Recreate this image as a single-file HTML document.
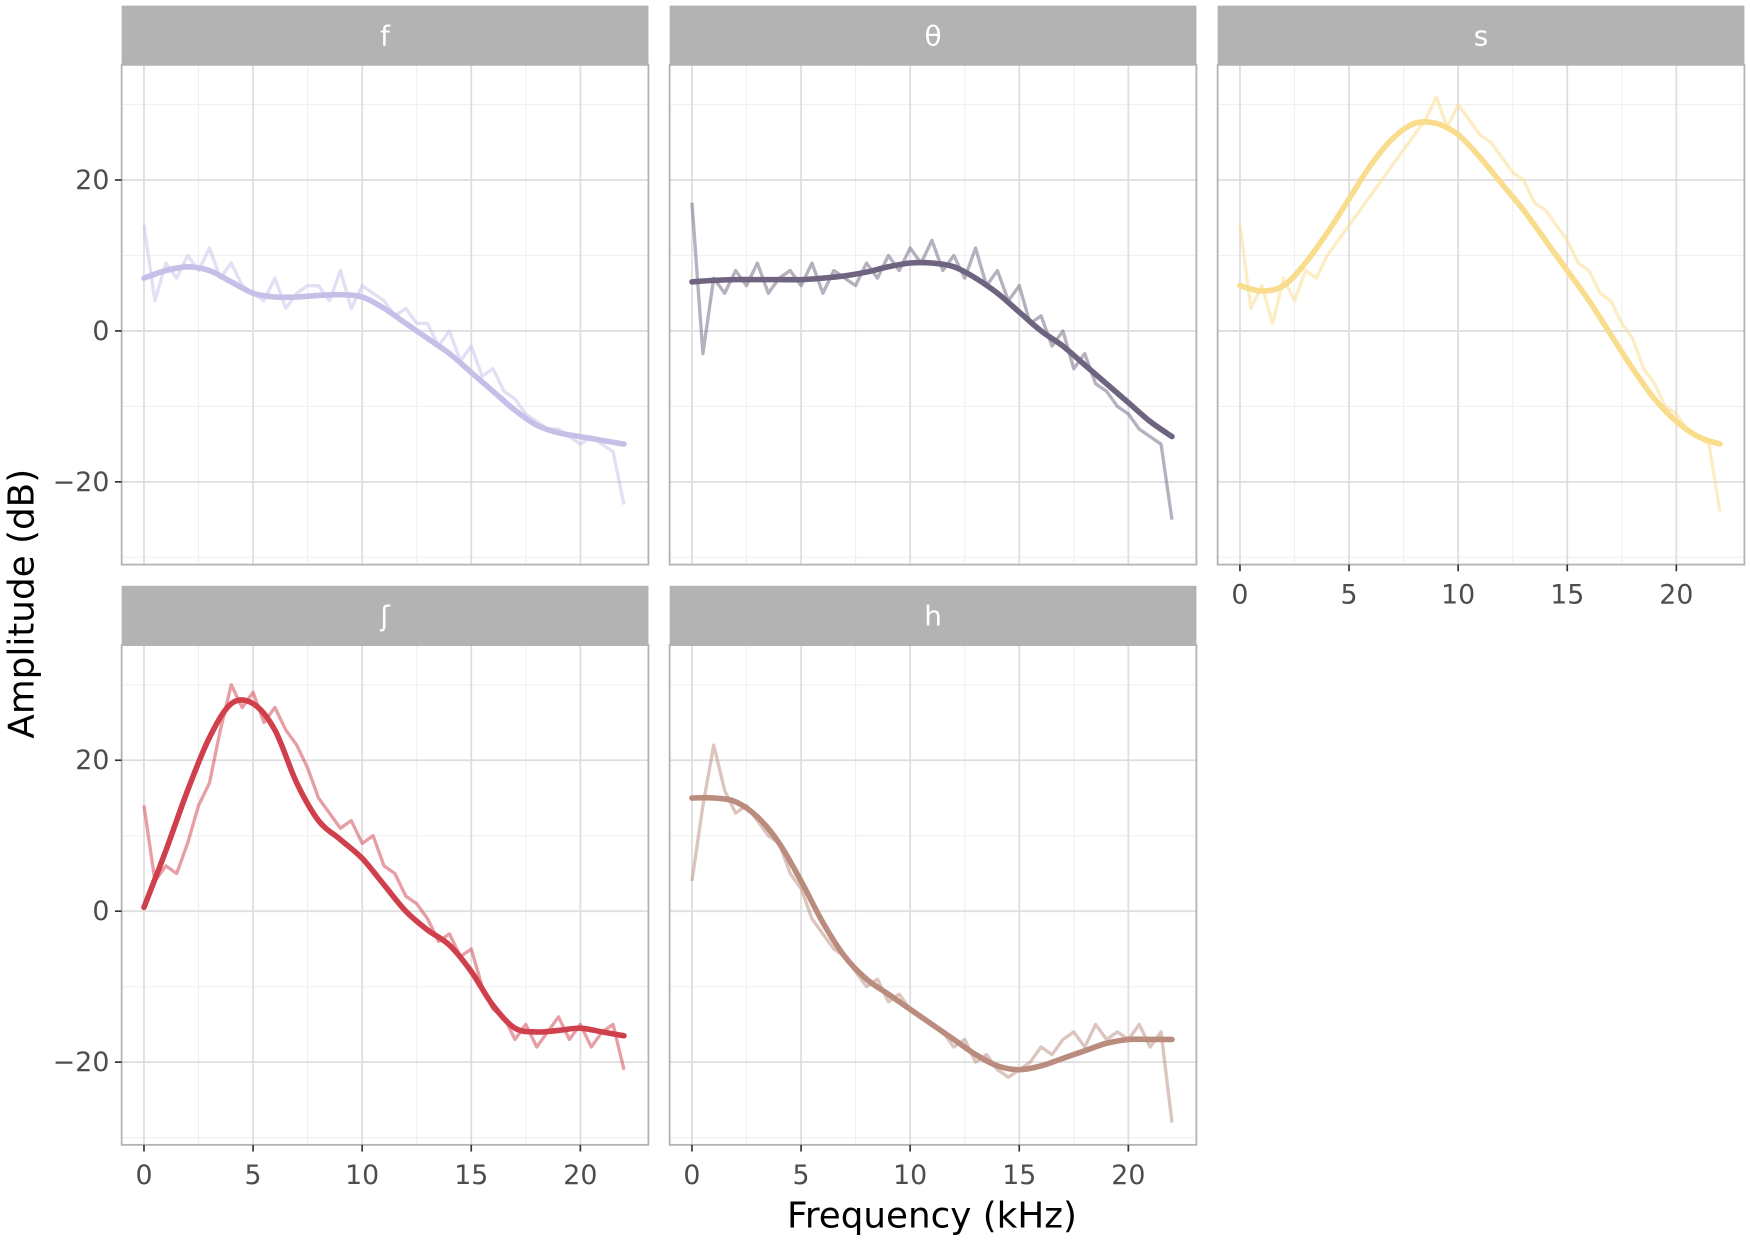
<!DOCTYPE html>
<html><head><meta charset="utf-8">
<style>
html,body{margin:0;padding:0;background:#fff;}
svg{display:block;font-family:"DejaVu Sans","Liberation Sans",sans-serif;}
</style></head>
<body>
<svg id="chart" width="1750" height="1241" viewBox="0 0 1568 1110" preserveAspectRatio="none" xmlns="http://www.w3.org/2000/svg">
<text x="0" y="0" transform="translate(30,540) rotate(-90)" text-anchor="middle" font-size="32" fill="#000">Amplitude (dB)</text>
<text x="835" y="1098" text-anchor="middle" font-size="32" fill="#000">Frequency (kHz)</text>
</svg>
<script>
const panelNames = ["f","θ","s","ʃ","h"];
const panelColors = ["#c8bfe9","#6e6480","#f9dc8c","#d0404c","#ba8c7e"];
const xTicks = [0,5,10,15,20];
const yTicks = [-20,0,20];
const smoothF = [7,8,8.5,8,6.5,5,4.5,4.5,4.7,4.8,4.5,3,1,-1,-3,-5.5,-8,-10.5,-12.5,-13.5,-14,-14.5,-15];
const smoothTh = [6.5,6.7,6.8,6.8,6.8,6.8,7,7.3,7.8,8.5,9,9,8.5,7,5,2.5,0,-2,-4.5,-7,-9.5,-12,-14];
const smoothS = [6,5.3,6,9,13,17.5,22,25.5,27.5,27.5,26,23,19.5,16,12,8,4,-0.5,-5,-9,-12,-14,-15];
const smoothSh = [0.5,8,16,23,27.5,27.5,24,17,12,9.5,7,3.5,0,-2.5,-4.5,-8,-12.5,-15.5,-16,-15.8,-15.5,-16,-16.5];
const smoothH = [15,15,14.5,12.5,9,4,-1.5,-6,-9,-11,-13,-15,-17,-19,-20.5,-21,-20.5,-19.5,-18.5,-17.5,-17,-17,-17];
const rawF = [14,4,9,7,10,8,11,7,9,6,5,4,7,3,5,6,6,4,8,3,6,5,4,2,3,1,1,-2,0,-4,-2,-6,-5,-8,-9,-11,-12,-13,-13,-14,-15,-14,-15,-16,-23];
const rawTh = [17,-3,7,5,8,6,9,5,7,8,6,9,5,8,7,6,9,7,10,8,11,9,12,8,10,7,11,6,8,4,6,1,2,-2,0,-5,-3,-7,-8,-10,-11,-13,-14,-15,-25];
const rawS = [14,3,6,1,7,4,8,7,10,12,14,16,18,20,22,24,26,28,31,27,30,28,26,25,23,21,20,17,16,14,12,9,8,5,4,1,-1,-5,-7,-10,-11,-13,-14,-15,-24];
const rawSh = [14,4,6,5,9,14,17,24,30,27,29,25,27,24,22,19,15,13,11,12,9,10,6,5,2,1,-1,-4,-3,-6,-5,-10,-13,-14,-17,-15,-18,-16,-14,-17,-15,-18,-16,-15,-21];
const rawH = [4,14,22,16,13,14,12,10,9,5,3,-1,-3,-5,-6,-8,-10,-9,-12,-11,-13,-14,-15,-16,-18,-17,-20,-19,-21,-22,-21,-20,-18,-19,-17,-16,-18,-15,-17,-16,-17,-15,-18,-16,-28];
const smoothSeries = [smoothF,smoothTh,smoothS,smoothSh,smoothH];
const rawSeries = [rawF,rawTh,rawS,rawSh,rawH];

const svg = document.getElementById('chart');
const NS = "http://www.w3.org/2000/svg";
function mk(tag, attrs, parent){
  const e = document.createElementNS(NS, tag);
  for (const k in attrs) e.setAttribute(k, attrs[k]);
  (parent||svg).appendChild(e);
  return e;
}
const colX = [109,600,1091];
const panelW = 472;
const rowTop = [58,577];
const panelH = 447;
const stripH = 53;
const xPxPerKHz = 19.55;
const yPxPerDb = 6.75;

panelNames.forEach((name,i)=>{
  const col = i<3 ? i : i-3;
  const row = i<3 ? 0 : 1;
  const px = colX[col], py = rowTop[row];
  const xs = v => px + 20 + v*xPxPerKHz;
  const ys = v => py + 238 - v*yPxPerDb;
  const g = mk('g',{});
  
  
  const strip = mk('rect',{x:px,y:py-stripH,width:panelW,height:stripH,fill:'#b3b3b3'},g);
  
  
  const st = mk('text',{x:px+panelW/2,y:py-stripH/2+9,'text-anchor':'middle','font-size':25,fill:'#fff'},g);
  st.textContent = name;
  
  
  [2.5,7.5,12.5,17.5].forEach(v=>mk('line',{x1:xs(v),x2:xs(v),y1:py,y2:py+panelH,stroke:'#f0f0f0','stroke-width':1},g));
  [-30,-10,10,30].forEach(v=>mk('line',{x1:px,x2:px+panelW,y1:ys(v),y2:ys(v),stroke:'#f0f0f0','stroke-width':1},g));
  xTicks.forEach(v=>{
    const l = mk('line',{x1:xs(v),x2:xs(v),y1:py,y2:py+panelH,stroke:'#dedede','stroke-width':1.6},g);
    
    
  });
  yTicks.forEach(v=>{
    const l = mk('line',{x1:px,x2:px+panelW,y1:ys(v),y2:ys(v),stroke:'#dedede','stroke-width':1.6},g);
    
    
  });
  const raw = rawSeries[i];
  const rp = raw.map((v,k)=>xs(k*0.5).toFixed(1)+','+ys(v).toFixed(1)).join(' ');
  const rl = mk('polyline',{points:rp,fill:'none',stroke:panelColors[i],'stroke-opacity':0.5,'stroke-width':3,'stroke-linejoin':'round'},g);
  
  
  const sm = smoothSeries[i];
  const pts = sm.map((v,k)=>[xs(k),ys(v)]);
  let d = 'M'+pts[0][0]+','+pts[0][1];
  for (let k=0;k<pts.length-1;k++){
    const p0=pts[Math.max(0,k-1)],p1=pts[k],p2=pts[k+1],p3=pts[Math.min(pts.length-1,k+2)];
    const c1=[p1[0]+(p2[0]-p0[0])/6,p1[1]+(p2[1]-p0[1])/6];
    const c2=[p2[0]-(p3[0]-p1[0])/6,p2[1]-(p3[1]-p1[1])/6];
    d+=' C'+c1.join(',')+' '+c2.join(',')+' '+p2.join(',');
  }
  const sl = mk('path',{d:d,fill:'none',stroke:panelColors[i],'stroke-width':5,'stroke-linecap':'round'},g);
  
  
  const border = mk('rect',{x:px,y:py,width:panelW,height:panelH,fill:'none',stroke:'#b3b3b3','stroke-width':1.6},g);
  
  
  if (col===0){
    yTicks.forEach(v=>{
      mk('line',{x1:px-6,x2:px,y1:ys(v),y2:ys(v),stroke:'#333','stroke-width':1.5},g);
      const t = mk('text',{x:px-11,y:ys(v)+8,'text-anchor':'end','font-size':24,fill:'#4d4d4d'},g);
      t.textContent = v<0 ? '\u2212'+Math.abs(v) : String(v);
      
      
    });
  }
  if (row===1 || col===2){
    xTicks.forEach(v=>{
      mk('line',{x1:xs(v),x2:xs(v),y1:py+panelH,y2:py+panelH+6,stroke:'#333','stroke-width':1.5},g);
      const t = mk('text',{x:xs(v),y:py+panelH+35,'text-anchor':'middle','font-size':24,fill:'#4d4d4d'},g);
      t.textContent = String(v);
      
      
    });
  }
});
</script>
</body></html>
